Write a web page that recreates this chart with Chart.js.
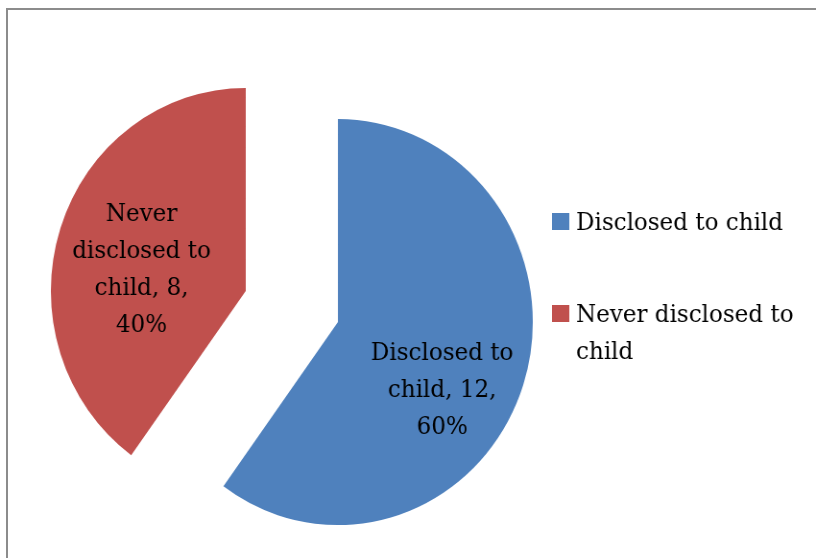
<!DOCTYPE html>
<html>
<head>
<meta charset="utf-8">
<script src="https://cdn.jsdelivr.net/npm/chart.js@4/dist/chart.umd.min.js"></script>
<style>
  body { margin: 0; overflow: hidden; background: #fff; }
  #frame { position: absolute; left: 6px; top: 8px; width: 900px; height: 700px; border: 2px solid #8c8c8c; }
  /* the original picture is squeezed a little sideways, so the pie is slightly oval */
  #pieChart { position: absolute; left: 0; top: 0; transform: scaleX(0.96); transform-origin: 0 0; }
</style>
</head>
<body>
<div id="frame"></div>
<canvas id="pieChart" width="850" height="558"></canvas>
<script>
// Chart data
const categories = ["Disclosed to child", "Never disclosed to child"];
const counts = [12, 8];
const percents = [60, 40];
const sliceColors = ["#4f81bd", "#c0504d"];

const FONT = "24px 'DejaVu Serif'";

// split text into lines no wider than maxWidth
function wrapText(ctx, text, maxWidth) {
  const words = text.split(" ");
  const lines = [];
  let line = "";
  words.forEach(w => {
    const test = line ? line + " " + w : w;
    if (line && ctx.measureText(test).width > maxWidth) {
      lines.push(line);
      line = w;
    } else {
      line = test;
    }
  });
  if (line) lines.push(line);
  return lines;
}

// pull every slice away from the centre (exploded pie)
const explodePlugin = {
  id: "explode",
  afterDatasetsUpdate(chart, args, opts) {
    chart.getDatasetMeta(0).data.forEach(arc => {
      const mid = (arc.startAngle + arc.endAngle) / 2;
      arc.x += Math.cos(mid) * opts.distance;
      arc.y += Math.sin(mid) * opts.distance;
    });
  }
};

// "Category, value, pct%" labels inside the slices
const sliceLabels = {
  id: "sliceLabels",
  afterDatasetsDraw(chart, args, opts) {
    const ctx = chart.ctx;
    ctx.save();
    ctx.font = FONT;
    ctx.fillStyle = "#000";
    ctx.textAlign = "center";
    ctx.textBaseline = "middle";
    chart.getDatasetMeta(0).data.forEach((arc, i) => {
      const pos = arc.tooltipPosition();
      const shift = opts.shift[i];
      const lines = wrapText(ctx, `${categories[i]}, ${counts[i]},`, opts.maxWidth);
      lines.push(percents[i] + "%");
      const top = pos.y + shift[1] - (lines.length - 1) * opts.lineHeight / 2;
      lines.forEach((l, k) => ctx.fillText(l, pos.x + shift[0], top + k * opts.lineHeight));
    });
    ctx.restore();
  }
};

// legend on the right, wrapped like the original
const sideLegend = {
  id: "sideLegend",
  afterDraw(chart, args, opts) {
    const ctx = chart.ctx;
    ctx.save();
    ctx.font = FONT;
    ctx.textBaseline = "alphabetic";
    ctx.textAlign = "left";
    categories.forEach((name, i) => {
      const top = opts.y + i * opts.gap;
      ctx.fillStyle = sliceColors[i];
      ctx.fillRect(opts.x, top, opts.boxW, opts.boxH);
      ctx.fillStyle = "#000";
      const lines = wrapText(ctx, name, opts.maxWidth);
      lines.forEach((l, k) => ctx.fillText(l, opts.x + opts.boxW + 7, top + opts.boxH + k * opts.lineHeight));
    });
    ctx.restore();
  }
};

const ctx = document.getElementById("pieChart").getContext("2d");
const pieChart = new Chart(ctx, {
  type: "pie",
  data: {
    labels: categories,
    datasets: [{
      data: counts,
      backgroundColor: sliceColors,
      borderWidth: 0
    }]
  },
  options: {
    responsive: false,
    animation: false,
    events: [],
    radius: 203,
    layout: { padding: { left: 0, right: 242, top: 55, bottom: 0 } },
    plugins: {
      legend: { display: false },
      tooltip: { enabled: false },
      explode: { distance: 50.5 },
      sliceLabels: { maxWidth: 175, lineHeight: 37, shift: [[12, 37], [-12, 11]] },
      sideLegend: { x: 575, y: 213, gap: 92, boxW: 18, boxH: 17, maxWidth: 255, lineHeight: 37 }
    }
  },
  plugins: [explodePlugin, sliceLabels, sideLegend]
});
</script>
</body>
</html>
